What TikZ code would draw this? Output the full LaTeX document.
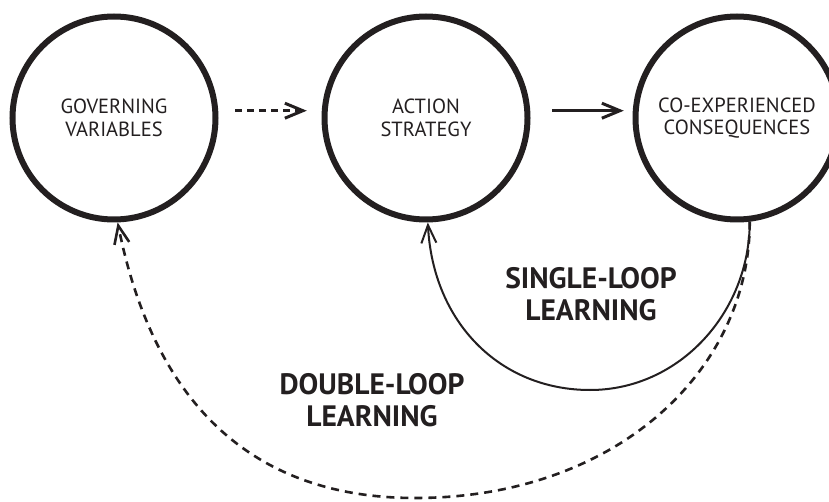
\documentclass[tikz,border=0pt]{standalone}
\usepackage{fontspec}
\setmainfont{PT Sans}
\usetikzlibrary{arrows.meta}
\definecolor{tinta}{HTML}{231F20}

\begin{document}
\begin{tikzpicture}[x=1pt, y=1pt, > = {Straight Barb[length=18pt, width=15pt]}]
        \tikzstyle{estado}=[circle, draw=tinta, line width=6pt, inner sep=0pt, minimum size=203pt, text=tinta, align=center, font=\fontsize{20.5}{22.5}\selectfont]
        \tikzstyle{rotulo}=[text=tinta, align=center, font=\bfseries\fontsize{29.5}{32}\selectfont]
        \useasboundingbox (0,0) rectangle (829,501);

            % Nós
            \node[estado] (gov) at (114,383) {GOVERNING\\VARIABLES};
            \node[estado] (act) at (426,383) {ACTION\\STRATEGY};
            \node[estado] (cons) at (737,383) {CO-EXPERIENCED\\CONSEQUENCES};

            \coordinate (sbot) at (590,111);
            \coordinate (dbot) at (415,3);

            % Arestas
            \draw[->, tinta, line width=3pt, dash pattern=on 7pt off 5pt, shorten < = 17pt, shorten > = 15pt] (gov.4) -- (act.176);
            \draw[->, tinta, line width=3pt, shorten < = 22pt, shorten > = 9pt] (act.4) -- (cons.176);
            \draw[->, tinta, line width=2pt] (cons.-83) .. controls +(0,-90) and +(90,0) .. (sbot)
                .. controls +(-90,0) and +(5,-100) .. (act.-89);
            \draw[->, tinta, line width=2.6pt, dash pattern=on 8pt off 6pt] (cons.-83) .. controls +(0,-150) and +(200,0) .. (dbot)
                .. controls +(-180,0) and +(32,-160) .. (gov.-88);

            \node[rotulo] (single) at (591,207) {SINGLE-LOOP\\LEARNING};
            \node[rotulo] (double) at (372,101) {DOUBLE-LOOP\\LEARNING};
\end{tikzpicture}
\end{document}
